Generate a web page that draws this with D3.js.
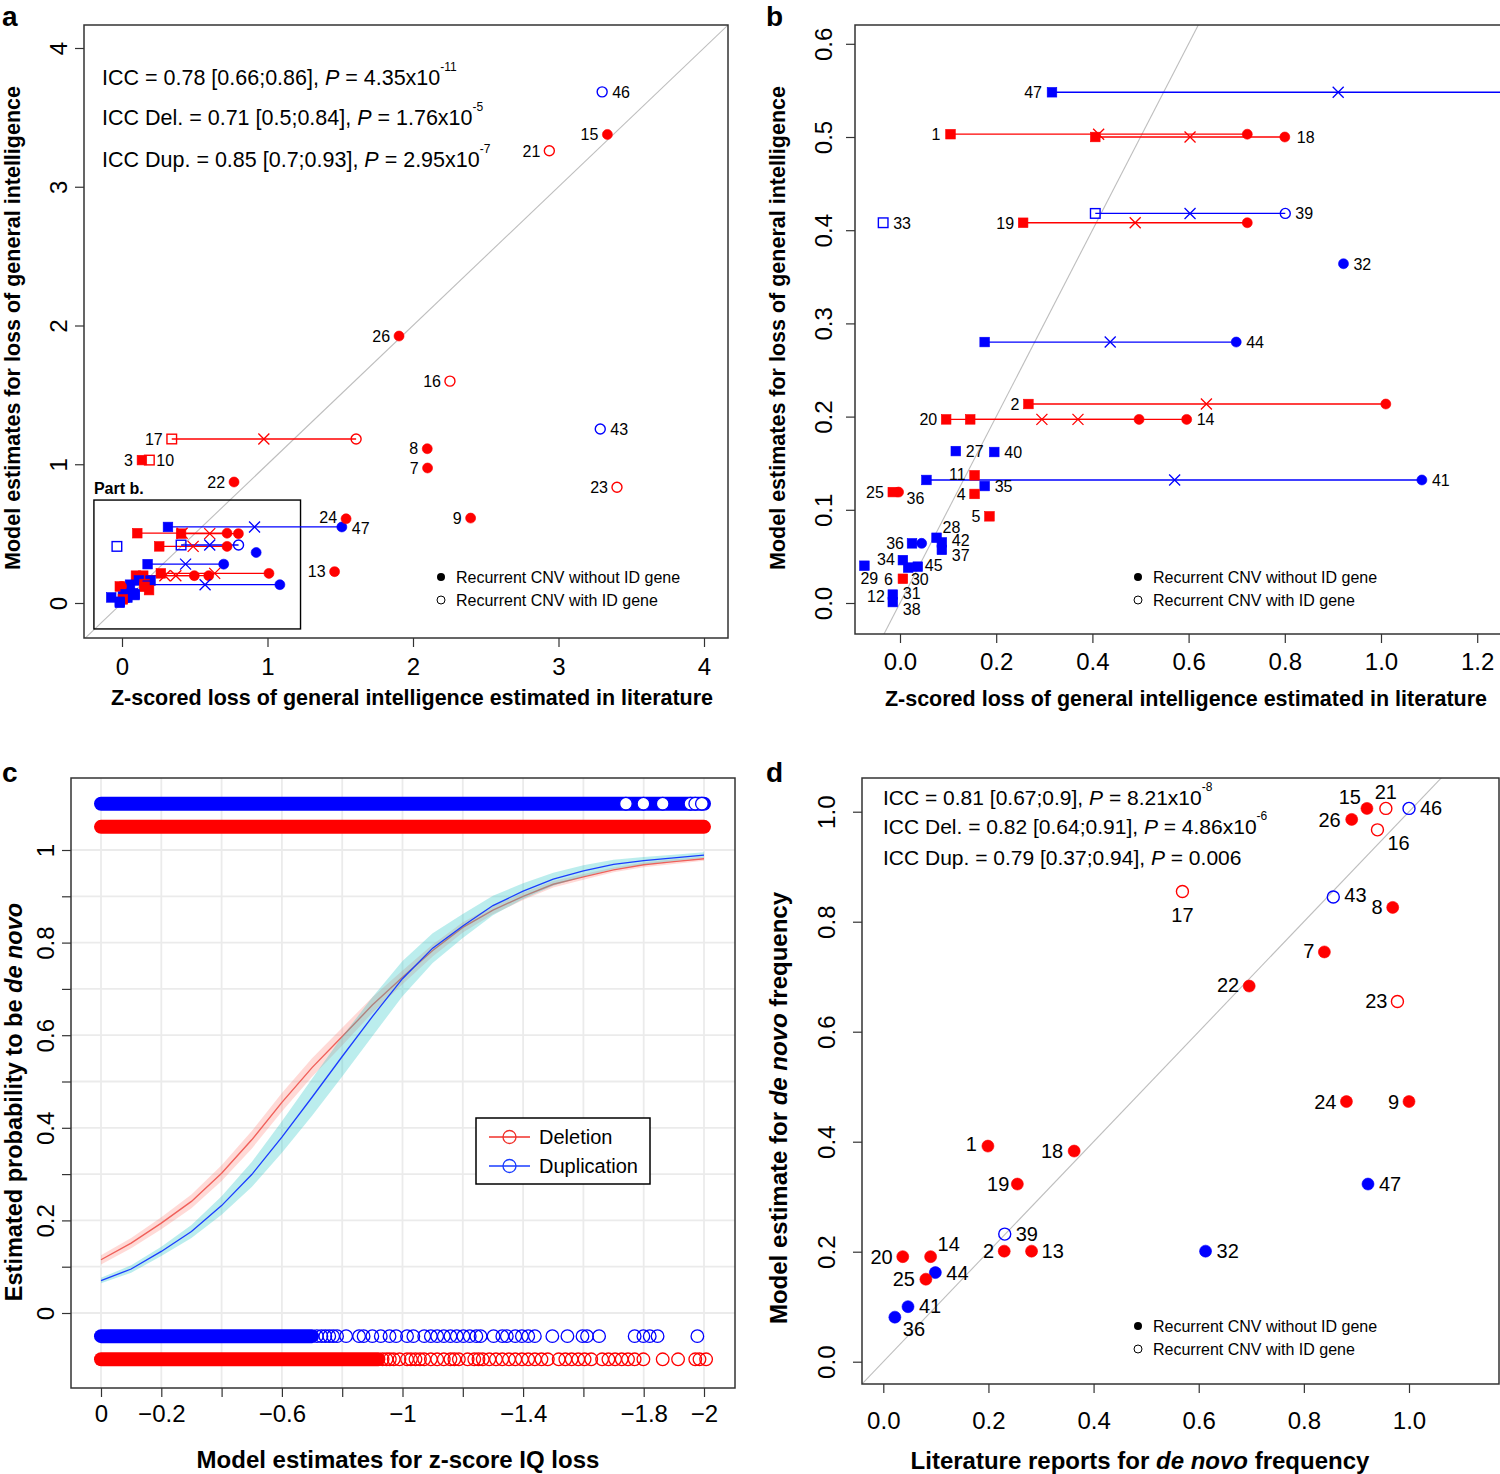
<!DOCTYPE html>
<html><head><meta charset="utf-8">
<script src="https://cdn.jsdelivr.net/npm/d3@7/dist/d3.min.js"></script>
<style>
body{margin:0;background:#fff;}
svg text{font-family:"Liberation Sans",Arial,Helvetica,sans-serif;fill:#000;}
</style></head>
<body><svg id="fig" width="1500" height="1474"></svg>
<script>
// ================= DATA =================
// Panel a: CNVs with a single literature estimate (x = literature z-loss, y = model estimate)
const aId     = ["46","15","21","26","16","43","8","7","22","23","24","9","13"];
const aLit    = [3.300,3.336,2.937,1.904,2.254,3.287,2.098,2.100,0.770,3.402,1.540,2.396,1.461];
const aModel  = [3.684,3.377,3.259,1.924,1.599,1.254,1.112,0.973,0.872,0.834,0.607,0.612,0.226];
const aDup    = [1,0,0,0,0,1,0,0,0,0,0,0,0];
const aIdGene = [1,0,1,0,1,1,0,0,0,1,0,0,0];

// Panels a (inset / left part) and b: CNVs drawn with square, cross and circle estimates
const rId     = ["47","1","18","33","19","39","32","44","2","20","14","27","40","11","41","35","25","4","5","36","28","42","37","34","29","45b","45","6","12","31","17","3","10"];
const rDup    = [1,0,0,1,0,1,1,1,0,0,0,1,1,0,1,1,0,0,0,1,1,1,1,1,1,1,1,0,1,1,0,0,0];
const rIdGene = [0,0,0,1,0,1,0,0,0,0,0,0,0,0,0,0,0,0,0,0,0,0,0,0,0,0,0,0,0,0,1,0,1];
const rModel  = [0.548,0.503,0.500,0.408,0.408,0.418,0.364,0.280,0.2135,0.197,0.197,0.163,0.162,0.137,0.132,0.1255,0.119,0.117,0.093,0.064,0.070,0.065,0.057,0.046,0.040,0.038,0.039,0.026,0.009,0.001,1.182,1.030,1.030];
const rSquare = [0.316,0.105,0.406,-0.035,0.256,0.406,null,0.176,0.267,0.096,0.146,0.116,0.196,0.155,0.055,0.176,-0.015,0.155,0.186,0.025,0.076,0.087,0.087,0.006,-0.074,0.017,0.037,0.006,-0.015,-0.015,0.342,0.137,0.188];
const rCross  = [0.911,0.413,0.603,null,0.489,0.603,null,0.437,0.637,0.295,0.370,null,null,null,0.571,null,null,null,null,null,null,null,null,null,null,null,null,null,null,null,0.975,null,null];
const rCircle = [1.511,0.722,0.800,null,0.722,0.801,0.922,0.699,1.010,0.497,0.596,null,null,null,1.085,null,-0.003,null,null,0.045,null,null,null,null,null,null,null,null,null,null,1.609,null,null];

// Panel c: logistic fits (x = model z-score IQ loss, probability de novo)
const cX      = [0,-0.1,-0.2,-0.3,-0.4,-0.5,-0.6,-0.7,-0.8,-0.9,-1.0,-1.1,-1.2,-1.3,-1.4,-1.5,-1.6,-1.7,-1.8,-1.9,-2.0];
const cDel    = [0.115,0.151,0.194,0.241,0.302,0.374,0.455,0.530,0.597,0.665,0.725,0.783,0.833,0.870,0.900,0.926,0.942,0.957,0.968,0.975,0.981];
const cDelLo  = [0.105,0.140,0.181,0.226,0.285,0.355,0.435,0.510,0.578,0.648,0.710,0.770,0.822,0.861,0.892,0.919,0.936,0.952,0.963,0.970,0.977];
const cDelHi  = [0.125,0.162,0.207,0.256,0.319,0.393,0.475,0.550,0.616,0.682,0.740,0.796,0.844,0.879,0.908,0.933,0.948,0.962,0.973,0.980,0.985];
const cDup    = [0.070,0.095,0.133,0.176,0.232,0.299,0.380,0.466,0.554,0.640,0.722,0.788,0.836,0.880,0.911,0.937,0.955,0.969,0.977,0.983,0.989];
const cDupLo  = [0.064,0.087,0.123,0.162,0.212,0.272,0.346,0.426,0.511,0.598,0.684,0.756,0.810,0.859,0.894,0.923,0.943,0.959,0.969,0.976,0.983];
const cDupHi  = [0.076,0.103,0.143,0.190,0.252,0.326,0.414,0.506,0.597,0.682,0.760,0.820,0.862,0.901,0.928,0.951,0.967,0.979,0.985,0.990,0.995];
// Panel c rug observations (de novo = top rows, inherited = bottom rows)
const rugLevel        = {delDenovo:1.05, dupDenovo:1.10, dupInh:-0.05, delInh:-0.10};
const delDenovoDense  = [0,-2.0];
const dupDenovoDense  = [0,-2.0];
const dupDenovoSingle = [-1.741,-1.799,-1.863,-1.955,-1.971,-1.993];
const dupInhDense     = [0,-0.70];
const dupInhSingle    = [-0.716,-0.731,-0.744,-0.757,-0.77,-0.783,
  -0.813,-0.856,-0.871,-0.900,-0.928,-0.957,-0.979,-1.015,-1.036,-1.072,-1.094,-1.115,-1.137,-1.159,-1.180,-1.202,-1.223,-1.245,-1.259,
  -1.302,-1.331,-1.346,-1.374,-1.396,-1.417,-1.439,-1.497,-1.547,-1.597,-1.612,-1.652,-1.770,-1.799,-1.820,-1.846,-1.978];
const delInhDense     = [0,-0.92];
const delInhSingle    = [-0.934,-0.947,-0.958,
  -0.971,-0.99,-1.015,-1.028,-1.043,-1.058,-1.072,-1.094,-1.115,-1.137,-1.159,-1.172,-1.187,-1.216,-1.238,-1.252,-1.266,-1.288,-1.310,-1.331,-1.353,-1.374,-1.396,
  -1.417,-1.439,-1.461,-1.482,-1.518,-1.540,-1.561,-1.583,-1.604,-1.626,-1.662,-1.683,-1.705,-1.727,-1.748,-1.770,-1.799,-1.863,-1.914,-1.971,-1.985,-2.007];

// Panel d: de novo frequency (literature vs model)
const dId     = ["15","21","46","26","16","17","43","8","7","22","23","24","9","1","18","19","47","39","2","13","32","20","14","44","25","41","36"];
const dLit    = [0.920,0.956,1.000,0.891,0.940,0.569,0.856,0.969,0.839,0.696,0.978,0.881,1.000,0.199,0.363,0.255,0.922,0.231,0.230,0.282,0.613,0.037,0.090,0.099,0.081,0.047,0.022];
const dModel  = [1.006,1.006,1.006,0.986,0.967,0.855,0.845,0.826,0.745,0.683,0.655,0.473,0.473,0.392,0.383,0.323,0.323,0.232,0.201,0.201,0.201,0.191,0.191,0.162,0.150,0.100,0.081];
const dDup    = [0,0,1,0,0,0,1,0,0,0,0,0,0,0,0,0,1,1,0,0,1,0,0,1,0,1,1];
const dIdGene = [0,1,1,0,1,1,1,0,0,0,1,0,0,0,0,0,0,1,0,0,0,0,0,0,0,0,0];

// Tick labels
const aTicks = [0,1,2,3,4], aTickLabels = ["0","1","2","3","4"];
const bXTicks = [0,0.2,0.4,0.6,0.8,1.0,1.2], bXTickLabels = ["0.0","0.2","0.4","0.6","0.8","1.0","1.2"];
const bYTicks = [0,0.1,0.2,0.3,0.4,0.5,0.6], bYTickLabels = ["0.0","0.1","0.2","0.3","0.4","0.5","0.6"];
const cXTicks = [0,-0.2,-0.4,-0.6,-0.8,-1.0,-1.2,-1.4,-1.6,-1.8,-2.0];
const cXTickLabels = ["0","\u22120.2","","\u22120.6","","\u22121","","\u22121.4","","\u22121.8","\u22122"];
const cYTicks = [0,0.1,0.2,0.3,0.4,0.5,0.6,0.7,0.8,0.9,1.0];
const cYTickLabels = ["0","","0.2","","0.4","","0.6","","0.8","","1"];
const dTicks = [0,0.2,0.4,0.6,0.8,1.0], dTickLabels = ["0.0","0.2","0.4","0.6","0.8","1.0"];

// ================= LAYOUT (label offsets, px) =================
const labA = {"46":[10,0,"start"],"43":[10,0,"start"],"24":[-9,-2,"end"]};
const labAR = [["17","17","sq",-9,0,"end"],["3","3","sq",-9,0,"end"],["10","10","sq",7,0,"start"],["47","47","ci",10,1,"start"]];
const labB = [["47","47","sq",-10,0,"end"],["1","1","sq",-10,0,"end"],["18","18","ci",12,0,"start"],["33","33","sq",10,0,"start"],
  ["19","19","sq",-9,0,"end"],["39","39","ci",10,0,"start"],["32","32","ci",10,0,"start"],["44","44","ci",10,0,"start"],
  ["2","2","sq",-9,0,"end"],["20","20","sq",-9,0,"end"],["14","14","ci",10,0,"start"],["27","27","sq",10,0,"start"],
  ["40","40","sq",10,0,"start"],["11","11","sq",-9,-1,"end"],["41","41","ci",10,0,"start"],["35","35","sq",10,0,"start"],
  ["25","25","sq",-9,0,"end"],["25","36","ci",8,6,"start"],["4","4","sq",-9,0,"end"],["5","5","sq",-9,0,"end"],
  ["36","36","sq",-8,0,"end"],["28","28","sq",6,-11,"start"],["42","42","sq",10,-2,"start"],["37","37","sq",10,5,"start"],
  ["34","34","sq",-8,-1,"end"],["29","29","sq",-4,13,"start"],["45","45","sq",7,-1,"start"],["6","6","sq",-10,0,"end"],
  ["6","30","sq",8,0,"start"],["12","12","sq",-8,2,"end"],["12","31","sq",10,-1,"start"],["31","38","sq",10,7,"start"]];
const labD = {"15":[-6,-12,"end"],"21":[0,-17,"middle"],"46":[11,-1,"start"],"26":[-11,0,"end"],"16":[10,13,"start"],
  "17":[0,23,"middle"],"43":[11,-2,"start"],"8":[-10,-1,"end"],"7":[-10,-1,"end"],"22":[-10,-1,"end"],"23":[-10,-1,"end"],
  "24":[-10,0,"end"],"9":[-10,0,"end"],"1":[-11,-2,"end"],"18":[-11,0,"end"],"19":[-8,0,"end"],"47":[11,0,"start"],
  "39":[11,0,"start"],"2":[-10,0,"end"],"13":[10,0,"start"],"32":[11,0,"start"],"20":[-10,0,"end"],"14":[7,-13,"start"],
  "44":[11,0,"start"],"25":[-11,0,"end"],"41":[11,-1,"start"],"36":[8,12,"start"]};

// ================= DRAWING =================
const svg = d3.select("#fig");
const RED = "#ff0000", BLUE = "#0000ff", GREY = "#bebebe";

function marker(g, shape, x, y, color, open, s) {
  if (shape === "ci") {
    g.append("circle").attr("cx", x).attr("cy", y).attr("r", s)
      .attr("fill", open ? "none" : color).attr("stroke", color).attr("stroke-width", open ? 1.4 : 0.6);
  } else if (shape === "sq") {
    g.append("rect").attr("x", x - s).attr("y", y - s).attr("width", 2 * s).attr("height", 2 * s)
      .attr("fill", open ? "none" : color).attr("stroke", color).attr("stroke-width", open ? 1.4 : 0.6);
  } else {
    g.append("path").attr("d", `M${x - s},${y - s}L${x + s},${y + s}M${x - s},${y + s}L${x + s},${y - s}`)
      .attr("stroke", color).attr("stroke-width", 1.3).attr("fill", "none");
  }
}
function label(g, x, y, t, anchor, size) {
  g.append("text").attr("x", x).attr("y", y).attr("dy", "0.36em").attr("text-anchor", anchor)
    .style("font-size", size + "px").text(t);
}
function box(g, x0, y0, x1, y1, col) {
  g.append("rect").attr("x", x0).attr("y", y0).attr("width", x1 - x0).attr("height", y1 - y0)
    .attr("fill", "none").attr("stroke", col || "#333").attr("stroke-width", 1.5);
}
function clip(id, x0, y0, x1, y1) {
  svg.append("clipPath").attr("id", id).append("rect").attr("x", x0).attr("y", y0).attr("width", x1 - x0).attr("height", y1 - y0);
}
function xAxis(g, scale, ticks, labels, yPos, off) {
  const ax = d3.axisBottom(scale).tickValues(ticks).tickSize(9).tickFormat(d => labels[ticks.indexOf(d)]);
  const a = g.append("g").attr("transform", `translate(0,${yPos})`).call(ax);
  a.select(".domain").remove();
  a.selectAll(".tick line").attr("stroke", "#333").attr("stroke-width", 1.2);
  a.selectAll(".tick text").attr("y", off).attr("dy", 0).style("font-size", "24px")
    .style("font-family", '"Liberation Sans",Arial,sans-serif').attr("fill", "#000");
}
function yAxis(g, scale, ticks, labels, xPos, off) {
  const ax = d3.axisLeft(scale).tickValues(ticks).tickSize(9).tickFormat(d => labels[ticks.indexOf(d)]);
  const a = g.append("g").attr("transform", `translate(${xPos},0)`).call(ax);
  a.select(".domain").remove();
  a.selectAll(".tick line").attr("stroke", "#333").attr("stroke-width", 1.2);
  a.selectAll(".tick text").attr("transform", "rotate(-90)").attr("x", 0).attr("y", -off).attr("dy", 0)
    .attr("text-anchor", "middle").style("font-size", "24px")
    .style("font-family", '"Liberation Sans",Arial,sans-serif').attr("fill", "#000");
}
function xTitle(g, x, y, parts, size) {
  const t = g.append("text").attr("x", x).attr("y", y).attr("text-anchor", "middle")
    .style("font-size", size + "px").style("font-weight", "bold");
  parts.forEach(p => t.append("tspan").style("font-style", p[1] ? "italic" : "normal").text(p[0]));
}
function yTitle(g, x, y, parts, size) {
  const t = g.append("text").attr("transform", `translate(${x},${y}) rotate(-90)`).attr("text-anchor", "middle")
    .style("font-size", size + "px").style("font-weight", "bold");
  parts.forEach(p => t.append("tspan").style("font-style", p[1] ? "italic" : "normal").text(p[0]));
}
function panelLetter(x, y, t) {
  svg.append("text").attr("x", x).attr("y", y).style("font-size", "28px").style("font-weight", "bold").text(t);
}
function iccLine(g, x, y, pre, post, sup, size) {
  const t = g.append("text").attr("x", x).attr("y", y).style("font-size", size + "px");
  t.append("tspan").text(pre);
  t.append("tspan").style("font-style", "italic").text("P");
  t.append("tspan").text(post);
  if (sup) t.append("tspan").attr("dy", -14).style("font-size", "12px").text(sup);
}
function idLegend(g, x, y) {
  g.append("circle").attr("cx", x).attr("cy", y).attr("r", 4).attr("fill", "#000");
  g.append("circle").attr("cx", x).attr("cy", y + 23).attr("r", 4).attr("fill", "none").attr("stroke", "#000").attr("stroke-width", 1);
  g.append("text").attr("x", x + 15).attr("y", y + 6).style("font-size", "16px").text("Recurrent CNV without ID gene");
  g.append("text").attr("x", x + 15).attr("y", y + 29).style("font-size", "16px").text("Recurrent CNV with ID gene");
}
function drawRanges(g, xs, ys) {
  rId.forEach((id, i) => {
    const vals = [rSquare[i], rCross[i], rCircle[i]].filter(v => v !== null);
    if (vals.length > 1) {
      const y = ys(rModel[i]);
      g.append("line").attr("x1", xs(d3.min(vals))).attr("x2", xs(d3.max(vals))).attr("y1", y).attr("y2", y)
        .attr("stroke", rDup[i] ? BLUE : RED).attr("stroke-width", 1.3);
    }
  });
  rId.forEach((id, i) => {
    const col = rDup[i] ? BLUE : RED, open = !!rIdGene[i], y = ys(rModel[i]);
    if (rSquare[i] !== null) marker(g, "sq", xs(rSquare[i]), y, col, open, 4.8);
    if (rCross[i] !== null) marker(g, "x", xs(rCross[i]), y, col, false, 5.5);
    if (rCircle[i] !== null) marker(g, "ci", xs(rCircle[i]), y, col, open, 5);
  });
}
function rangeLabels(g, xs, ys, list, size) {
  list.forEach(l => {
    const i = rId.indexOf(l[0]);
    const v = l[2] === "sq" ? rSquare[i] : rCircle[i];
    label(g, xs(v) + l[3], ys(rModel[i]) + l[4], l[1], l[5], size);
  });
}

// ---------- Panel a ----------
{
  const x0 = 84, x1 = 728, y0 = 25, y1 = 638;
  const xs = d3.scaleLinear().domain([0, 4]).range([122, 704]);
  const ys = d3.scaleLinear().domain([0, 4]).range([603, 48]);
  clip("clipA", x0, y0, x1, y1);
  const g = svg.append("g");
  const gc = g.append("g").attr("clip-path", "url(#clipA)");
  gc.append("line").attr("x1", xs(-0.3)).attr("y1", ys(-0.3)).attr("x2", xs(4.3)).attr("y2", ys(4.3))
    .attr("stroke", GREY).attr("stroke-width", 1.1);
  gc.append("rect").attr("x", xs(-0.193)).attr("y", ys(0.742)).attr("width", xs(1.227) - xs(-0.193))
    .attr("height", ys(-0.187) - ys(0.742)).attr("fill", "none").attr("stroke", "#000").attr("stroke-width", 1.4);
  g.append("text").attr("x", xs(-0.193)).attr("y", ys(0.742) - 6).style("font-size", "16px").style("font-weight", "bold").text("Part b.");
  drawRanges(gc, xs, ys);
  aId.forEach((id, i) => marker(gc, "ci", xs(aLit[i]), ys(aModel[i]), aDup[i] ? BLUE : RED, !!aIdGene[i], 5));
  aId.forEach((id, i) => {
    const o = labA[id] || [-9, 0, "end"];
    label(g, xs(aLit[i]) + o[0], ys(aModel[i]) + o[1], id, o[2], 16);
  });
  rangeLabels(g, xs, ys, labAR, 16);
  box(g, x0, y0, x1, y1);
  xAxis(g, xs, aTicks, aTickLabels, y1, 37);
  yAxis(g, ys, aTicks, aTickLabels, x0, 17.5);
  xTitle(g, 412, 705, [["Z-scored loss of general intelligence estimated in literature", 0]], 21.5);
  yTitle(g, 20, 328, [["Model estimates for loss of general intelligence", 0]], 21.5);
  iccLine(g, 102, 85, "ICC = 0.78 [0.66;0.86], ", " = 4.35x10", "-11", 21.5);
  iccLine(g, 102, 125, "ICC Del. = 0.71 [0.5;0.84], ", " = 1.76x10", "-5", 21.5);
  iccLine(g, 102, 167, "ICC Dup. = 0.85 [0.7;0.93], ", " = 2.95x10", "-7", 21.5);
  idLegend(g, 441, 577);
  panelLetter(2, 26, "a");
}

// ---------- Panel b ----------
{
  const x0 = 855, x1 = 1501, y0 = 25, y1 = 634;
  const xs = d3.scaleLinear().domain([0, 1.2]).range([900, 1477.2]);
  const ys = d3.scaleLinear().domain([0, 0.6]).range([603, 43.8]);
  clip("clipB", x0, y0, x1, y1);
  const g = svg.append("g");
  const gc = g.append("g").attr("clip-path", "url(#clipB)");
  gc.append("line").attr("x1", xs(-0.2)).attr("y1", ys(-0.2)).attr("x2", xs(0.8)).attr("y2", ys(0.8))
    .attr("stroke", GREY).attr("stroke-width", 1.1);
  drawRanges(gc, xs, ys);
  rangeLabels(g, xs, ys, labB, 16);
  box(g, x0, y0, x1, y1);
  xAxis(g, xs, bXTicks, bXTickLabels, y1, 36);
  yAxis(g, ys, bYTicks, bYTickLabels, x0, 23.5);
  xTitle(g, 1186, 706, [["Z-scored loss of general intelligence estimated in literature", 0]], 21.5);
  yTitle(g, 785, 328, [["Model estimates for loss of general intelligence", 0]], 21.5);
  idLegend(g, 1138, 577);
  panelLetter(766, 26, "b");
}

// ---------- Panel c ----------
{
  const x0 = 71, x1 = 735, y0 = 778, y1 = 1388;
  const xs = d3.scaleLinear().domain([0, -2]).range([101, 704]);
  const ys = d3.scaleLinear().domain([0, 1]).range([1313, 850]);
  const g = svg.append("g");
  cXTicks.forEach(v => g.append("line").attr("x1", xs(v)).attr("x2", xs(v)).attr("y1", y0).attr("y2", y1)
    .attr("stroke", "#ebebeb").attr("stroke-width", 1.8));
  cYTicks.forEach(v => g.append("line").attr("x1", x0).attr("x2", x1).attr("y1", ys(v)).attr("y2", ys(v))
    .attr("stroke", "#ebebeb").attr("stroke-width", 1.8));
  const R = 7;
  function band(rng, lvl, col) {
    g.append("rect").attr("x", xs(rng[0]) - R).attr("y", ys(lvl) - R).attr("width", xs(rng[1]) - xs(rng[0]) + 2 * R)
      .attr("height", 2 * R).attr("rx", R).attr("fill", col);
  }
  function singles(vals, lvl, col, fill) {
    g.selectAll(null).data(vals).enter().append("circle").attr("cx", d => xs(d)).attr("cy", ys(lvl)).attr("r", 6.3)
      .attr("fill", fill).attr("stroke", col).attr("stroke-width", 1.3);
  }
  band(dupDenovoDense, rugLevel.dupDenovo, BLUE);
  singles(dupDenovoSingle, rugLevel.dupDenovo, BLUE, "#fff");
  band(delDenovoDense, rugLevel.delDenovo, RED);
  band(dupInhDense, rugLevel.dupInh, BLUE);
  singles(dupInhSingle, rugLevel.dupInh, BLUE, "none");
  band(delInhDense, rugLevel.delInh, RED);
  singles(delInhSingle, rugLevel.delInh, RED, "none");
  const idx = d3.range(cX.length);
  const area = (lo, hi) => d3.area().x(i => xs(cX[i])).y0(i => ys(lo[i])).y1(i => ys(hi[i]))(idx);
  const line = (v) => d3.line().x(i => xs(cX[i])).y(i => ys(v[i]))(idx);
  g.append("path").attr("d", area(cDelLo, cDelHi)).attr("fill", "#ff6a60").attr("fill-opacity", 0.25);
  g.append("path").attr("d", line(cDel)).attr("fill", "none").attr("stroke", "#f0605a").attr("stroke-width", 1.4);
  g.append("path").attr("d", area(cDupLo, cDupHi)).attr("fill", "#30c8c8").attr("fill-opacity", 0.33);
  g.append("path").attr("d", line(cDup)).attr("fill", "none").attr("stroke", "#1a3cff").attr("stroke-width", 1.3);
  g.append("rect").attr("x", 476).attr("y", 1118).attr("width", 174).attr("height", 66).attr("fill", "#fff")
    .attr("stroke", "#000").attr("stroke-width", 1.5);
  [["Deletion", "#f0302a", 1137], ["Duplication", "#1a3cff", 1166]].forEach(l => {
    g.append("line").attr("x1", 489).attr("x2", 530).attr("y1", l[2]).attr("y2", l[2]).attr("stroke", l[1]).attr("stroke-width", 1.3);
    g.append("circle").attr("cx", 509.5).attr("cy", l[2]).attr("r", 6.5).attr("fill", "none").attr("stroke", l[1]).attr("stroke-width", 1.3);
    g.append("text").attr("x", 539).attr("y", l[2] + 7).style("font-size", "20px").text(l[0]);
  });
  box(g, x0, y0, x1, y1);
  xAxis(g, xs, cXTicks, cXTickLabels, y1, 33.5);
  yAxis(g, ys, cYTicks, cYTickLabels, x0, 17.5);
  xTitle(g, 398, 1468, [["Model estimates for z-score IQ loss", 0]], 24);
  yTitle(g, 22, 1102, [["Estimated probability to be ", 0], ["de novo", 1]], 23.5);
  panelLetter(2, 782, "c");
}

// ---------- Panel d ----------
{
  const x0 = 862, x1 = 1499, y0 = 778, y1 = 1384;
  const xs = d3.scaleLinear().domain([0, 1]).range([883.3, 1409]);
  const ys = d3.scaleLinear().domain([0, 1]).range([1361.7, 811.7]);
  clip("clipD", x0, y0, x1, y1);
  const g = svg.append("g");
  const gc = g.append("g").attr("clip-path", "url(#clipD)");
  gc.append("line").attr("x1", xs(-0.1)).attr("y1", ys(-0.1)).attr("x2", xs(1.2)).attr("y2", ys(1.2))
    .attr("stroke", GREY).attr("stroke-width", 1.1);
  dId.forEach((id, i) => marker(gc, "ci", xs(dLit[i]), ys(dModel[i]), dDup[i] ? BLUE : RED, !!dIdGene[i], 6));
  dId.forEach((id, i) => {
    const o = labD[id];
    label(g, xs(dLit[i]) + o[0], ys(dModel[i]) + o[1], id, o[2], 20);
  });
  box(g, x0, y0, x1, y1);
  xAxis(g, xs, dTicks, dTickLabels, y1, 45);
  yAxis(g, ys, dTicks, dTickLabels, x0, 27.5);
  xTitle(g, 1140, 1469, [["Literature reports for ", 0], ["de novo", 1], [" frequency", 0]], 24);
  yTitle(g, 787, 1108, [["Model estimate for ", 0], ["de novo", 1], [" frequency", 0]], 24);
  iccLine(g, 883, 805, "ICC = 0.81 [0.67;0.9], ", " = 8.21x10", "-8", 21);
  iccLine(g, 883, 834, "ICC Del. = 0.82 [0.64;0.91], ", " = 4.86x10", "-6", 21);
  iccLine(g, 883, 865, "ICC Dup. = 0.79 [0.37;0.94], ", " = 0.006", null, 21);
  idLegend(g, 1138, 1326);
  panelLetter(766, 782, "d");
}
</script></body></html>
